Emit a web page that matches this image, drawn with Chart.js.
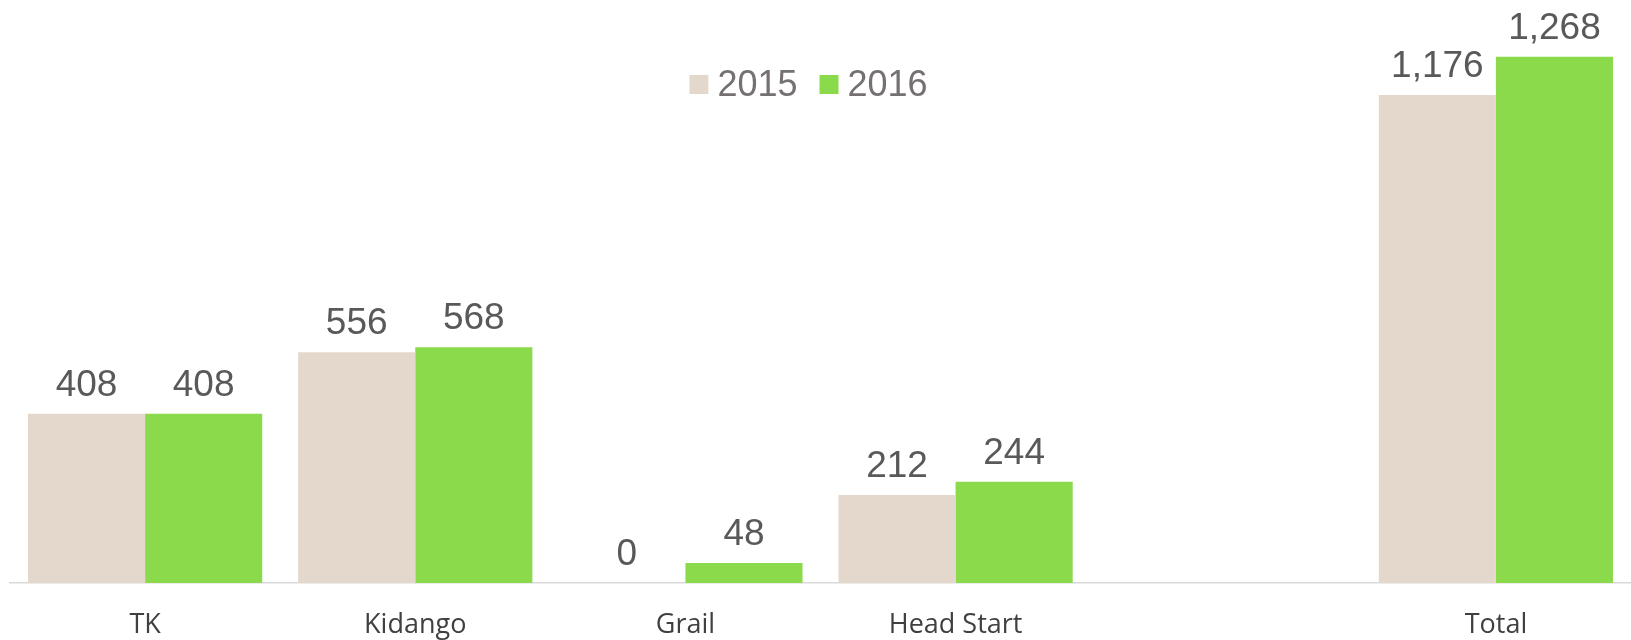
<!DOCTYPE html>
<html>
<head>
<meta charset="utf-8">
<script src="https://cdn.jsdelivr.net/npm/chart.js@4/dist/chart.umd.min.js"></script>
<style>
  html, body { margin: 0; padding: 0; background: #fff; overflow: hidden; }
  #wrap { width: 1631px; height: 640px; position: relative; }
</style>
</head>
<body>
<div id="wrap"><canvas id="myChart"></canvas></div>
<script>
// data
var categories = ['TK', 'Kidango', 'Grail', 'Head Start', '', 'Total']
var seriesNames = ['2015', '2016']
var values2015 = [408, 556, 0, 212, null, 1176]
var values2016 = [408, 568, 48, 244, null, 1268]
var yMax = 1400

const beige = '#E4D8CC'
const green = '#8BDA4C'

// value labels above each bar
const valueLabels = {
  id: 'valueLabels',
  afterDatasetsDraw(chart) {
    const ctx = chart.ctx
    ctx.save()
    ctx.font = '37px "Liberation Sans", Arial, sans-serif'
    ctx.fillStyle = '#595959'
    ctx.textAlign = 'center'
    ctx.textBaseline = 'alphabetic'
    chart.data.datasets.forEach(function(ds, i) {
      const meta = chart.getDatasetMeta(i)
      meta.data.forEach(function(bar, j) {
        const v = ds.data[j]
        if (v === null || v === undefined) return
        ctx.fillText(v.toLocaleString('en-US'), bar.x, bar.y - 18)
      })
    })
    ctx.restore()
  }
}

// legend sitting inside the plot, like the original
const innerLegend = {
  id: 'innerLegend',
  afterDraw(chart) {
    const ctx = chart.ctx
    const area = chart.chartArea
    ctx.save()
    ctx.font = '36px "Liberation Sans", Arial, sans-serif'
    ctx.textBaseline = 'alphabetic'
    ctx.textAlign = 'left'
    const box = 19, gapText = 9, gapItem = 22
    const items = chart.data.datasets.map(function(ds) {
      return { text: ds.label, color: ds.backgroundColor, w: ctx.measureText(ds.label).width }
    })
    let total = 0
    items.forEach(function(it, k) {
      total += box + gapText + it.w + (k < items.length - 1 ? gapItem : 0)
    })
    let x = (area.left + area.right) / 2 - 12 - total / 2
    const baseY = 96
    items.forEach(function(it) {
      ctx.fillStyle = it.color
      ctx.fillRect(x, baseY - 21, box, box)
      x += box + gapText
      ctx.fillStyle = '#767171'
      ctx.fillText(it.text, x, baseY)
      x += it.w + gapItem
    })
    ctx.restore()
  }
}

var ctx = document.getElementById('myChart').getContext('2d')
const chart = new Chart(ctx, {
  type: 'bar',
  data: {
    labels: categories,
    datasets: [{
      label: seriesNames[0],
      backgroundColor: beige,
      data: values2015
    }, {
      label: seriesNames[1],
      backgroundColor: green,
      data: values2016
    }]
  },
  options: {
    responsive: true,
    maintainAspectRatio: false,
    animation: false,
    layout: { padding: { left: 10, top: 2, right: 0, bottom: 0 } },
    datasets: {
      bar: { categoryPercentage: 0.867, barPercentage: 1.0 }
    },
    plugins: {
      legend: { display: false },
      tooltip: { enabled: false }
    },
    scales: {
      x: {
        grid: { display: false, drawTicks: false },
        border: { display: true, color: '#D9D9D9', width: 1.5 },
        ticks: {
          color: '#404040',
          padding: 26,
          maxRotation: 0,
          autoSkip: false,
          font: { family: '"Open Sans", sans-serif', size: 27 }
        },
        afterFit: function(scale) { scale.height = 57 }
      },
      y: {
        display: false,
        min: 0,
        max: yMax
      }
    }
  },
  plugins: [valueLabels, innerLegend]
})
</script>
</body>
</html>
